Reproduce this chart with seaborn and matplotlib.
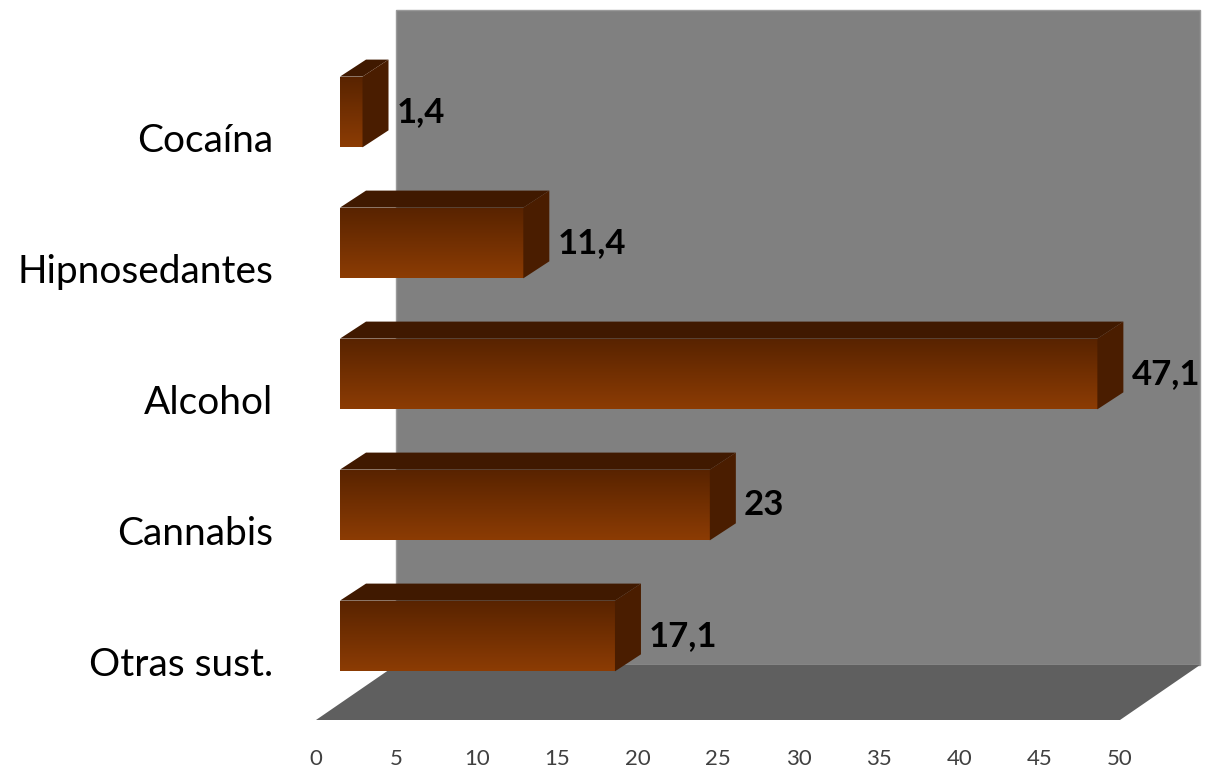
import numpy as np
import pandas as pd
import matplotlib
matplotlib.use('Agg')
import matplotlib.pyplot as plt
import seaborn as sns
from matplotlib.patches import Polygon

# datos
categories = ['Cocaína', 'Hipnosedantes', 'Alcohol', 'Cannabis', 'Otras sust.']
values = [1.4, 11.4, 47.1, 23, 17.1]
value_labels = ['1,4', '11,4', '47,1', '23', '17,1']
x_ticks = list(range(0, 55, 5))

sns.set_theme(style='white')
plt.rcParams['font.family'] = ['Lato', 'DejaVu Sans']

fig = plt.figure(figsize=(12.1, 7.7), dpi=100)
ax = fig.add_axes([316 / 1210, 50 / 770, 804 / 1210, 655 / 770])

df = pd.DataFrame({'sustancia': categories, 'valor': values})
sns.barplot(data=df, x='valor', y='sustancia', order=categories, orient='h',
            width=0.54, color='#6b2c00', saturation=1, ax=ax, zorder=3)

XLIM = (0, 50)
YLIM = (4.443, -0.557)
ax.set_xlim(*XLIM)
ax.set_ylim(*YLIM)

# profundidad 3D (px de pantalla -> unidades de datos)
p0 = ax.transData.transform((0, 0))
p1 = ax.transData.transform((1, 1))
sx, sy = p1[0] - p0[0], p1[1] - p0[1]
ddx, ddy = 80 / sx, 55 / sy
# desplazamientos de las barras (px)
front_dx, front_dy = 24 / sx, 26 / sy
depth_dx, depth_dy = 26 / sx, 17 / sy

# pared y suelo
ybot, ytop = YLIM
wall = Polygon([(XLIM[0] + ddx, ybot + ddy), (XLIM[1] + ddx, ybot + ddy),
                (XLIM[1] + ddx, ytop + ddy), (XLIM[0] + ddx, ytop + ddy)],
               closed=True, facecolor='#808080', edgecolor='#9a9a9a', lw=1,
               clip_on=False, zorder=0)
floor = Polygon([(XLIM[0], ybot), (XLIM[1], ybot),
                 (XLIM[1] + ddx, ybot + ddy), (XLIM[0] + ddx, ybot + ddy)],
                closed=True, facecolor='#5f5f5f', edgecolor='none',
                clip_on=False, zorder=1)
ax.add_patch(wall)
ax.add_patch(floor)

grad = np.linspace(0, 1, 100)[:, None]
c_top = np.array([0x58, 0x23, 0x00]) / 255
c_bot = np.array([0x8c, 0x3c, 0x04]) / 255
grad_img = (c_top + grad[..., None] * (c_bot - c_top))

bars = [p for p in ax.patches if p not in (wall, floor)]
for bar in bars:
    bar.set_x(bar.get_x() + front_dx)
    bar.set_y(bar.get_y() + front_dy)
    bar.set_edgecolor('none')
    xl = bar.get_x()
    xr = xl + bar.get_width()
    y0 = bar.get_y()
    h = bar.get_height()
    im = ax.imshow(grad_img, extent=[xl, xr, y0 + h, y0], origin='upper',
                   aspect='auto', zorder=3.5, interpolation='bilinear')
    im.set_clip_path(bar)
    top = Polygon([(xl, y0), (xr, y0), (xr + depth_dx, y0 + depth_dy), (xl + depth_dx, y0 + depth_dy)],
                  closed=True, facecolor='#401900', edgecolor='none',
                  clip_on=False, zorder=4)
    side = Polygon([(xr, y0), (xr, y0 + h), (xr + depth_dx, y0 + h + depth_dy), (xr + depth_dx, y0 + depth_dy)],
                   closed=True, facecolor='#4a1d00', edgecolor='none',
                   clip_on=False, zorder=4)
    ax.add_patch(top)
    ax.add_patch(side)

for i, (v, lab) in enumerate(zip(values, value_labels)):
    ax.annotate(lab, xy=(v, i), xytext=(58 * 0.72, 26 * 0.72),
                textcoords='offset points', ha='left', va='center',
                fontsize=25, fontweight='bold', color='black',
                annotation_clip=False, zorder=6)

ax.set_xlim(*XLIM)
ax.set_ylim(*YLIM)
ax.set_xticks(x_ticks)
ax.set_xlabel('')
ax.set_ylabel('')
ax.tick_params(axis='x', length=0, pad=21, labelsize=16, labelcolor='#404040')
ax.tick_params(axis='y', length=0, pad=31, labelsize=28, labelcolor='black')
for s in ax.spines.values():
    s.set_visible(False)
ax.patch.set_alpha(0)

fig.savefig('out.png', dpi=100, facecolor='white')
